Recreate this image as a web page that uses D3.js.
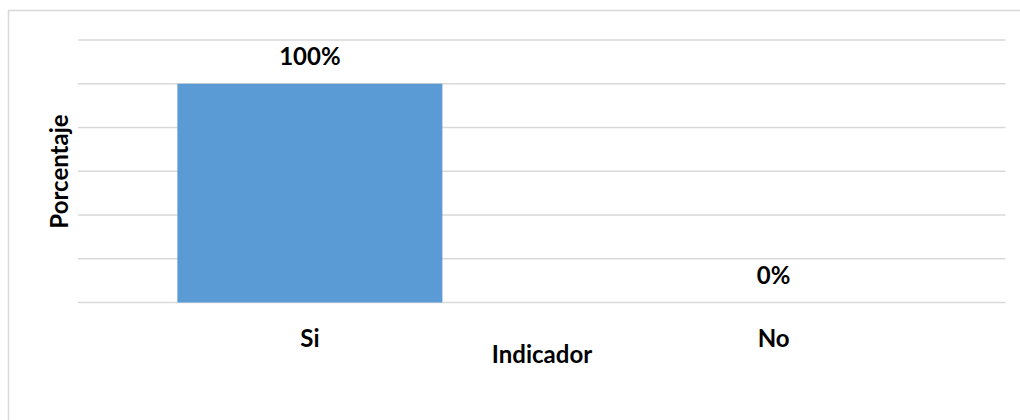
<!DOCTYPE html>
<html><head><meta charset="utf-8">
<script src="https://cdn.jsdelivr.net/npm/d3@7"></script>
<style>body{margin:0;background:#fff}text{font-family:Lato,"Open Sans",sans-serif;font-weight:bold;fill:#000}</style>
</head><body><svg id="c" width="1020" height="420"></svg>
<script>
const categories = ["Si", "No"];
const values = [100, 0];
const labels = ["100%", "0%"];
const yTicks = [0, 20, 40, 60, 80, 100, 120];

const svg = d3.select("#c");
svg.append("rect").attr("x", 8.5).attr("y", 10.5).attr("width", 1030).attr("height", 430)
  .attr("fill", "#fff").attr("stroke", "#d9d9d9").attr("stroke-width", 1.5);

const x0 = 78, x1 = 1005.5;
const x = d3.scaleBand().domain(categories).range([x0, x1]);
const y = d3.scaleLinear().domain([0, 120]).range([302.5, 40]);
const bw = x.step() / 1.75;
const fs = 24;

svg.append("g").selectAll("line").data(yTicks).join("line")
  .attr("x1", x0).attr("x2", x1).attr("y1", d => y(d)).attr("y2", d => y(d))
  .attr("stroke", "#d9d9d9").attr("stroke-width", 1.5);

svg.append("g").selectAll("rect").data(values).join("rect")
  .attr("x", (d, i) => x(categories[i]) + (x.step() - bw) / 2)
  .attr("width", bw)
  .attr("y", d => y(d)).attr("height", d => y(0) - y(d))
  .attr("fill", "#5b9bd5");

svg.append("g").selectAll("text").data(values).join("text")
  .attr("x", (d, i) => x(categories[i]) + x.step() / 2)
  .attr("y", d => y(d) - 19)
  .attr("text-anchor", "middle").attr("font-size", fs)
  .text((d, i) => labels[i]);

svg.append("g").selectAll("text").data(categories).join("text")
  .attr("x", d => x(d) + x.step() / 2).attr("y", 346.5)
  .attr("text-anchor", "middle").attr("font-size", fs).text(d => d);

svg.append("text").attr("x", 542).attr("y", 363).attr("text-anchor", "middle")
  .attr("font-size", fs).text("Indicador");

svg.append("text").attr("transform", "translate(68,171.5) rotate(-90)")
  .attr("text-anchor", "middle").attr("font-size", fs).text("Porcentaje");
</script></body></html>
